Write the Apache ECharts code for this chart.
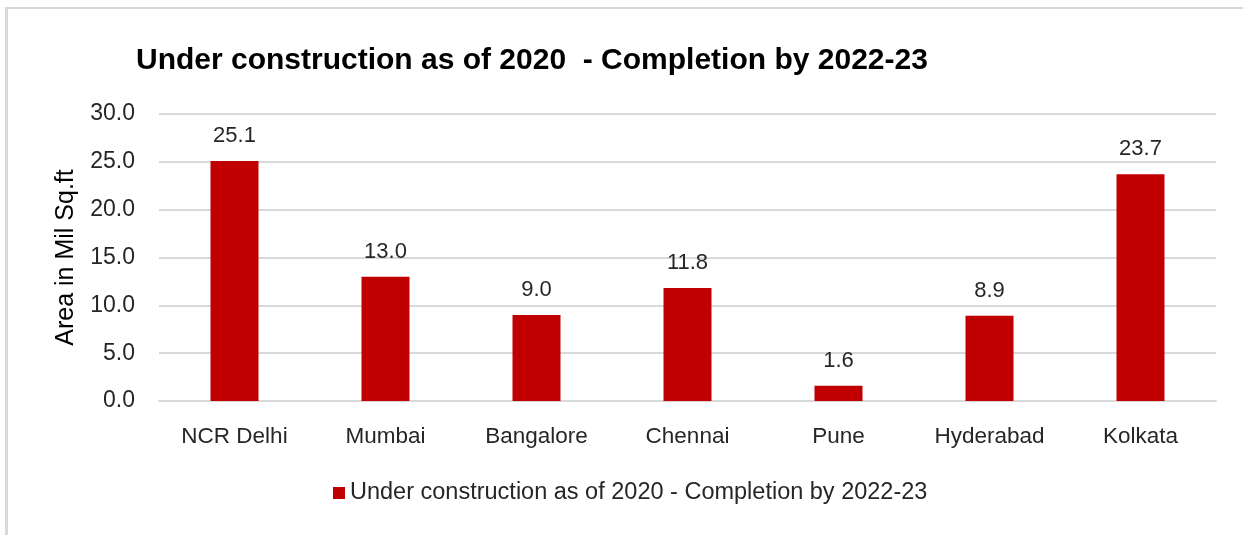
<!DOCTYPE html>
<html lang="en">
<head>
<meta charset="UTF-8">
<title>Under construction</title>
<script src="https://cdn.jsdelivr.net/npm/echarts@6/dist/echarts.min.js"></script>
<style>
    html, body { margin: 0; padding: 0; background: #fff; }
    #frame {
        position: absolute; left: 5px; top: 7px; right: 0; bottom: 0;
        border-top: 2px solid #d9d9d9;
        border-left: 3px solid #d9d9d9;
    }
    #container { position: absolute; left: 0; top: 0; width: 1243px; height: 535px; }
</style>
</head>
<body>
<div id="frame"></div>
<div id="container"></div>
<script>
    var cities = ['NCR Delhi', 'Mumbai', 'Bangalore', 'Chennai', 'Pune', 'Hyderabad', 'Kolkata'];
    var areaValues = [25.1, 13.0, 9.0, 11.8, 1.6, 8.9, 23.7];
    var seriesName = 'Under construction as of 2020 - Completion by 2022-23';
    var titleText = 'Under construction as of 2020  - Completion by 2022-23';
    var yAxisTitle = 'Area in Mil Sq.ft';

    var font = '"Liberation Sans", Arial, sans-serif';
    var myChart = echarts.init(document.getElementById('container'));

    var option = {
        animation: false,
        backgroundColor: 'transparent',
        title: {
            text: titleText,
            left: 131,
            top: 41,
            textStyle: { fontFamily: font, fontSize: 30, fontWeight: 'bold', color: '#000' }
        },
        legend: {
            bottom: 25,
            left: 328,
            itemWidth: 12,
            itemHeight: 12,
            icon: 'rect',
            itemGap: 10,
            textStyle: { fontFamily: font, fontSize: 23.5, color: '#262626' },
            data: [seriesName]
        },
        grid: { left: 159, right: 27, top: 114, bottom: 134 },
        xAxis: {
            type: 'category',
            data: cities,
            axisTick: { show: false },
            axisLine: { lineStyle: { color: '#d9d9d9', width: 2 } },
            axisLabel: { fontFamily: font, fontSize: 22.5, color: '#262626', margin: 24 }
        },
        yAxis: {
            type: 'value',
            min: 0,
            max: 30,
            interval: 5,
            name: yAxisTitle,
            nameLocation: 'middle',
            nameGap: 80,
            nameTextStyle: { fontFamily: font, fontSize: 25, color: '#000' },
            axisLine: { show: false },
            axisTick: { show: false },
            splitLine: { lineStyle: { color: '#d9d9d9', width: 2 } },
            axisLabel: {
                fontFamily: font, fontSize: 23, color: '#262626', margin: 24,
                formatter: function (v) { return v.toFixed(1); }
            }
        },
        series: [{
            name: seriesName,
            type: 'bar',
            data: areaValues,
            barWidth: 48,
            itemStyle: { color: '#c00000' },
            label: {
                show: true,
                position: 'top',
                distance: 14,
                fontFamily: font,
                fontSize: 22,
                color: '#262626',
                formatter: function (p) { return p.value.toFixed(1); }
            }
        }]
    };
    myChart.setOption(option);
</script>
</body>
</html>
